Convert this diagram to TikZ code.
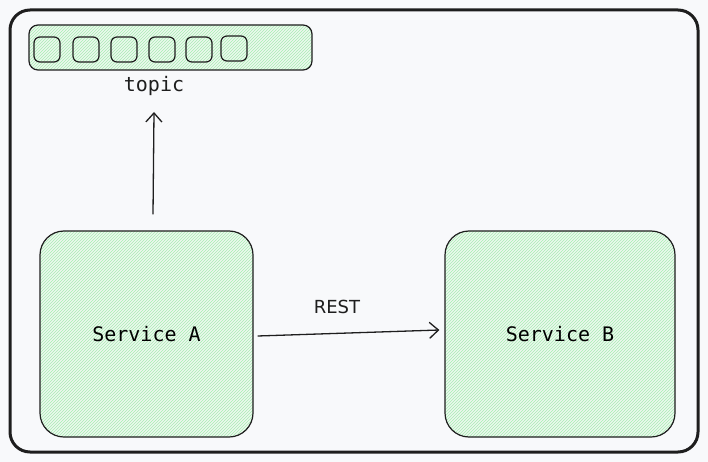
\documentclass[tikz,border=0pt]{standalone}
\usepackage{fontspec}
\setmonofont{DejaVu Sans Mono}
\setsansfont{DejaVu Sans}
\usetikzlibrary{patterns,arrows.meta}
\definecolor{bg}{HTML}{F8F9FB}
\definecolor{ink}{HTML}{1E1E1E}
\definecolor{greenfill}{HTML}{ECF8EE}
\definecolor{hatch}{HTML}{A8EDB3}
\tikzset{
  x=1pt, y=-1pt,
  frame/.style={draw=ink, line width=3pt, rounded corners=20pt},
  greenbox/.style={draw=ink, line width=1.2pt, preaction={fill=greenfill}, preaction={pattern=north east lines, pattern color=hatch}},
  slot/.style={greenbox, rounded corners=6pt, minimum width=26pt, minimum height=25pt, inner sep=0pt},
  service/.style={greenbox, rounded corners=24pt, inner sep=0pt, font=\ttfamily\fontsize{20}{24}\selectfont},
  lbl/.style={font=\ttfamily\fontsize{20}{24}\selectfont, text=ink},
  conn/.style={draw=ink, line width=1.3pt, -{Straight Barb[length=9pt,width=16pt,line width=1.3pt]}}
}
\begin{document}
\begin{tikzpicture}
\fill[bg] (0,0) rectangle (708,462);
\useasboundingbox (0,0) rectangle (708,462);
\draw[frame] (10,10) rectangle (698,452);
% topic bar
\node[greenbox, rounded corners=9pt, minimum width=283pt, minimum height=45pt, inner sep=0pt] (bar) at (170.5,47.5) {};
\node[slot] (s1) at (47,49.5) {};
\node[slot] (s2) at (86,49.5) {};
\node[slot] (s3) at (124,49.5) {};
\node[slot] (s4) at (162,49.5) {};
\node[slot] (s5) at (199,49.5) {};
\node[slot] (s6) at (234,48.5) {};
\node[lbl] (topic) at (154,86) {topic};
% services
\node[service, minimum width=213pt, minimum height=206pt] (A) at (146.5,334) {Service A};
\node[service, minimum width=230pt, minimum height=206pt] (B) at (560,334) {Service B};
\coordinate (up) at (154,112);
\draw[conn] ([xshift=6.5pt,yshift=16pt]A.north) -- (up);
\draw[conn] ([xshift=4pt,yshift=-2pt]A.east) -- ([xshift=-5pt,yshift=4pt]B.west);
\node[font=\sffamily\fontsize{18}{22}\selectfont, text=ink] (rest) at (337,307) {REST};
\end{tikzpicture}
\end{document}
